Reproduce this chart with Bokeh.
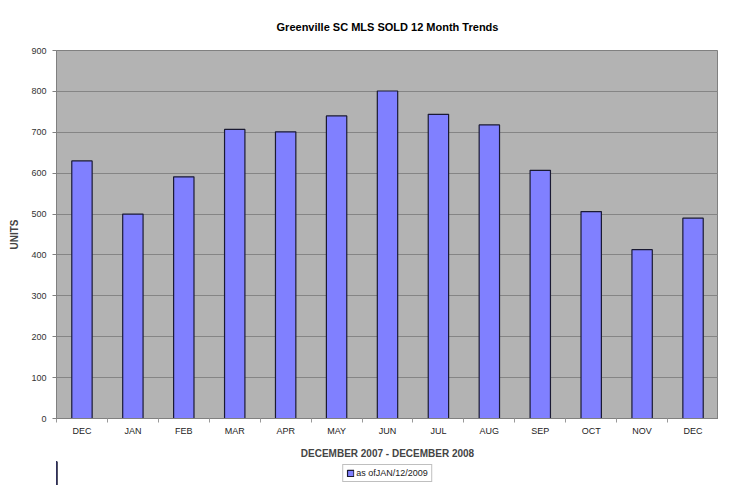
from bokeh.plotting import figure
from bokeh.layouts import column
from bokeh.models import ColumnDataSource, Range1d, FixedTicker, Legend, LegendItem
from bokeh.embed import file_html
from bokeh.resources import INLINE

months = ["DEC", "JAN", "FEB", "MAR", "APR", "MAY", "JUN", "JUL", "AUG", "SEP", "OCT", "NOV", "DEC"]
units = [630, 500, 591, 707, 701, 740, 801, 744, 718, 607, 506, 413, 490]
y_ticks = [0, 100, 200, 300, 400, 500, 600, 700, 800, 900]
series_name = "as ofJAN/12/2009"
title_text = "Greenville SC MLS SOLD 12 Month Trends"
x_label = "DECEMBER 2007 - DECEMBER 2008"
y_label = "UNITS"

idx = list(range(len(months)))
src = ColumnDataSource(dict(x=idx, top=units))

FONT = "Liberation Sans"
BAR_FILL = "#8080ff"
BAR_LINE = "#1a1a33"

p = figure(frame_width=662, frame_height=368, output_backend="svg", toolbar_location=None,
           x_range=Range1d(-0.5, len(months) - 0.5), y_range=Range1d(0, 900),
           min_border_left=56, min_border_right=0, min_border_top=0, min_border_bottom=2)

p.background_fill_color = "#b3b3b3"
p.border_fill_color = "white"
p.outline_line_color = "#808080"
p.outline_line_width = 1

p.title.text = title_text
p.title.align = "center"
p.title.text_font = FONT
p.title.text_font_size = "11px"
p.title.text_font_style = "bold"
p.title.text_color = "black"
p.title.offset = 0
p.title.standoff = 36

p.vbar(x="x", top="top", width=0.4, source=src, fill_color=BAR_FILL,
       line_color=BAR_LINE, line_width=1.2)

p.xgrid.grid_line_color = None
p.ygrid.ticker = FixedTicker(ticks=y_ticks)
p.ygrid.grid_line_color = "#858585"
p.ygrid.grid_line_width = 1

p.yaxis.ticker = FixedTicker(ticks=y_ticks)
p.yaxis.axis_label = y_label
p.yaxis.axis_label_text_font = FONT
p.yaxis.axis_label_text_font_size = "10px"
p.yaxis.axis_label_text_font_style = "bold"
p.yaxis.axis_label_standoff = 8
p.yaxis.major_label_text_font = FONT
p.yaxis.major_label_text_font_size = "9px"
p.yaxis.major_label_text_color = "#333333"
p.yaxis.axis_line_color = "#808080"
p.yaxis.major_tick_line_color = "#808080"
p.yaxis.major_tick_in = 0
p.yaxis.major_tick_out = 4
p.yaxis.minor_tick_line_color = None
p.yaxis.major_label_standoff = 6

p.xaxis.ticker = FixedTicker(ticks=idx, minor_ticks=[i - 0.5 for i in range(len(months) + 1)])
p.xaxis.major_label_overrides = {i: m for i, m in enumerate(months)}
p.xaxis.major_label_text_font = FONT
p.xaxis.major_label_text_font_size = "9px"
p.xaxis.major_label_text_color = "#222222"
p.xaxis.major_tick_line_color = None
p.xaxis.major_tick_in = 0
p.xaxis.major_tick_out = 0
p.xaxis.minor_tick_line_color = "#999999"
p.xaxis.minor_tick_in = 0
p.xaxis.minor_tick_out = 4
p.xaxis.axis_line_color = "#808080"
p.xaxis.major_label_standoff = 3
p.xaxis.axis_label = x_label
p.xaxis.axis_label_text_font = FONT
p.xaxis.axis_label_text_font_size = "10px"
p.xaxis.axis_label_text_font_style = "bold"
p.xaxis.axis_label_standoff = 9

# legend strip below the chart (its proxy bars lie outside its view)
lg = figure(width=718, height=24, output_backend="svg", toolbar_location=None,
            x_range=Range1d(100, 101), y_range=Range1d(0, 1),
            x_axis_type=None, y_axis_type=None,
            min_border_left=0, min_border_right=0, min_border_top=0, min_border_bottom=0)
lg.outline_line_color = None
lg.background_fill_color = "white"
lg.border_fill_color = "white"
lg.xgrid.grid_line_color = None
lg.ygrid.grid_line_color = None
proxy = lg.vbar(x="x", top="top", width=0.4, source=src, fill_color=BAR_FILL,
                line_color=BAR_LINE, line_width=1.2)

legend = Legend(items=[LegendItem(label=series_name, renderers=[proxy])],
                location="center", orientation="horizontal")
legend.label_text_font = FONT
legend.label_text_font_size = "9px"
legend.label_text_color = "#222222"
legend.border_line_color = "#808080"
legend.border_line_width = 1
legend.glyph_width = 8
legend.glyph_height = 8
legend.label_standoff = 2
legend.padding = 3
legend.spacing = 0
legend.margin = 0
legend.label_height = 10
lg.add_layout(legend, "center")

layout = column(p, lg, spacing=0)
open("out.html", "w").write(file_html(layout, INLINE))
